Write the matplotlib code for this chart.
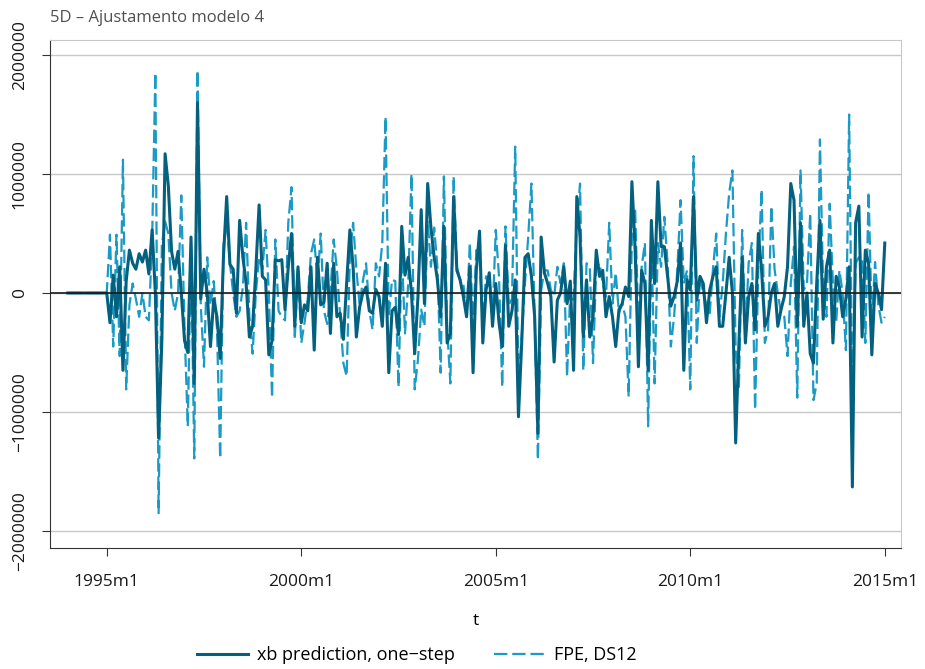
import numpy as np
import matplotlib
matplotlib.use("Agg")
import matplotlib.pyplot as plt

plt.rcParams['font.family'] = ['Open Sans', 'DejaVu Sans']

# monthly values, 1994m1 .. 2015m1 (first 13 months are zero)
lead_zeros = [0] * 13

xb_pred = [
    -250, 150, -200, 220, -650, 100, 360, 250, 200, 330, 260, 360, 160, 530, 0, -1220,
    -400, 1170, 900, 350, 200, 350, 0, -400, -500, 470, -760, 1600, -50, 200, 0, -450,
    -50, -200, -550, 300, 810, 240, 200, -170, 610, 300, 80, -370, -280, 200, 740, 140,
    110, -520, -400, 280, 270, 280, -140, 220, 500, -280, 220, -250, -100, -150, 220, -480,
    300, -100, -80, 250, -340, 250, -200, -170, -390, 80, 530, 220, -370, -120, 0, 50,
    -150, -170, 30, -30, -280, 250, -670, -150, -120, -350, 560, 150, 300, 0, -510, -30,
    700, -90, 920, 550, 300, 110, -200, 560, -420, -340, 810, 190, 110, -30, -200, 220,
    -670, 190, 520, -420, 25, 170, -280, 80, -250, -450, 400, -280, -150, 110, -1040, -420,
    300, 330, 140, -200, -1180, 470, 170, 80, -30, -580, -60, 0, 220, -90, 100, -650,
    810, 470, -370, 110, -370, -200, 360, 140, 190, -200, -30, -200, -450, -140, -90, 50,
    -30, 935, 360, -620, 190, 80, -650, 610, 80, 935, 390, 390, 140, -110, -30, 100,
    420, -650, 110, 25, 810, -60, 140, 80, -250, 25, 140, 220, -280, -280, 0, 300,
    0, -1260, -420, 300, -420, -30, 80, -310, 500, 190, -280, -200, 0, 80, -280, -140,
    -30, 220, 920, 780, -280, 590, -280, 0, -510, -590, 80, 610, -220, 220, 360, -420,
    140, 50, -200, -50, 220, -1630, 590, 730, -370, 360, 250, -520, 80, 0, -140, 420,
]

fpe_ds12 = [
    490, -450, 490, -530, 1120, -810, -100, 80, -50, -200, 0, -200, -230, 450, 1850, -1850,
    400, 600, 500, 0, -150, 0, 820, -300, -1120, 400, -1390, 1870, -100, -620, 300, -100,
    100, -300, -1390, 400, 600, 250, 0, -200, -150, 50, 590, -200, -510, 0, 300, 200,
    530, 0, -880, 450, -150, -200, -230, 590, 890, -390, 220, -420, -250, -50, 330, 450,
    100, 500, -150, -260, 0, 450, 200, -200, -590, -700, 300, 590, 200, -100, 100, 250,
    -150, -310, 250, 140, 420, 1480, -200, 110, 100, -790, 360, -340, 80, 1000, -810, -560,
    -140, -280, 610, 220, 550, 220, -670, 980, -300, -760, 980, 220, 110, 80, -200, 420,
    -280, 360, 300, -250, 140, 25, -200, 530, 140, -790, 560, -100, -50, 1230, -760, -370,
    80, 470, 920, -200, -1400, 25, 190, 190, 25, -30, 220, 80, 250, -700, 25, -60,
    600, 920, -650, 250, 220, -590, 220, 250, 80, -30, 590, -90, 170, -170, -90, -200,
    -870, 470, 700, -280, 220, 420, -1120, 470, -760, 420, 220, 640, 250, -450, -200, 190,
    780, 80, 190, -810, 1150, -420, 140, 0, -100, -170, 200, 500, -200, 80, 500, 840,
    1030, -480, -790, 530, -370, 250, 420, -980, 220, 870, -420, -310, 730, 200, 0, -170,
    -200, -530, 80, 390, -880, 1030, 25, 80, 670, -900, -760, 1290, 25, -200, 750, 80,
    -250, 190, 0, -480, 1500, -900, 250, 300, 300, -420, 850, -250, 260, -100, -250, -200,
]

tick_labels = ['1995m1', '2000m1', '2005m1', '2010m1', '2015m1']
tick_months = [0, 60, 120, 180, 240]  # months after 1995m1

t = np.arange(-12, 241)
y_xb = np.array(lead_zeros + xb_pred) * 1000
y_fpe = np.array(lead_zeros + fpe_ds12) * 1000

fig = plt.figure(figsize=(9.25, 6.69), dpi=100)
ax = fig.add_axes([50 / 925, 1 - 548 / 669, 851 / 925, 508 / 669])

ax.plot(t, y_xb, color='#03617f', lw=2.2, solid_joinstyle='round', label='xb prediction, one\u2212step', zorder=3)
ax.plot(t, y_fpe, color='#1a9ac4', lw=1.6, dashes=(6, 2.2), label='FPE, DS12', zorder=2)
ax.axhline(0, color='#1a1a1a', lw=1.2, zorder=4)

ax.set_xlim(-17.5, 245)
ax.set_ylim(-2143000, 2126000)
ax.set_xticks(tick_months)
ax.set_xticklabels(tick_labels, fontsize=12.5)
yt = [-2000000, -1000000, 0, 1000000, 2000000]
ax.set_yticks(yt)
ax.set_yticklabels([f'{v:d}'.replace('-', '\u2212') for v in yt], fontsize=12.5,
                   rotation=90, va='center')
ax.grid(axis='y', color='#c8c8c8', lw=1)
ax.set_axisbelow(True)
for s in ax.spines.values():
    s.set_color('#c8c8c8')
ax.spines['left'].set_color('#333333')
ax.spines['bottom'].set_color('#333333')
ax.tick_params(axis='both', length=6, color='#333333', labelcolor='#1a1a1a')
ax.tick_params(axis='x', pad=13)
ax.tick_params(axis='y', pad=10)
ax.set_xlabel('t', fontsize=12.5, labelpad=16)

fig.text(50 / 925, 1 - 18 / 669, '5D \u2013 Ajustamento modelo 4', fontsize=12,
         color='#505050', va='center', ha='left')

fig.legend(loc='center', bbox_to_anchor=(417 / 925, 1 - 655 / 669), ncol=2, frameon=False,
           fontsize=13, handlelength=2.8, handletextpad=0.5, columnspacing=2.2)

fig.savefig('out.png', dpi=100)
